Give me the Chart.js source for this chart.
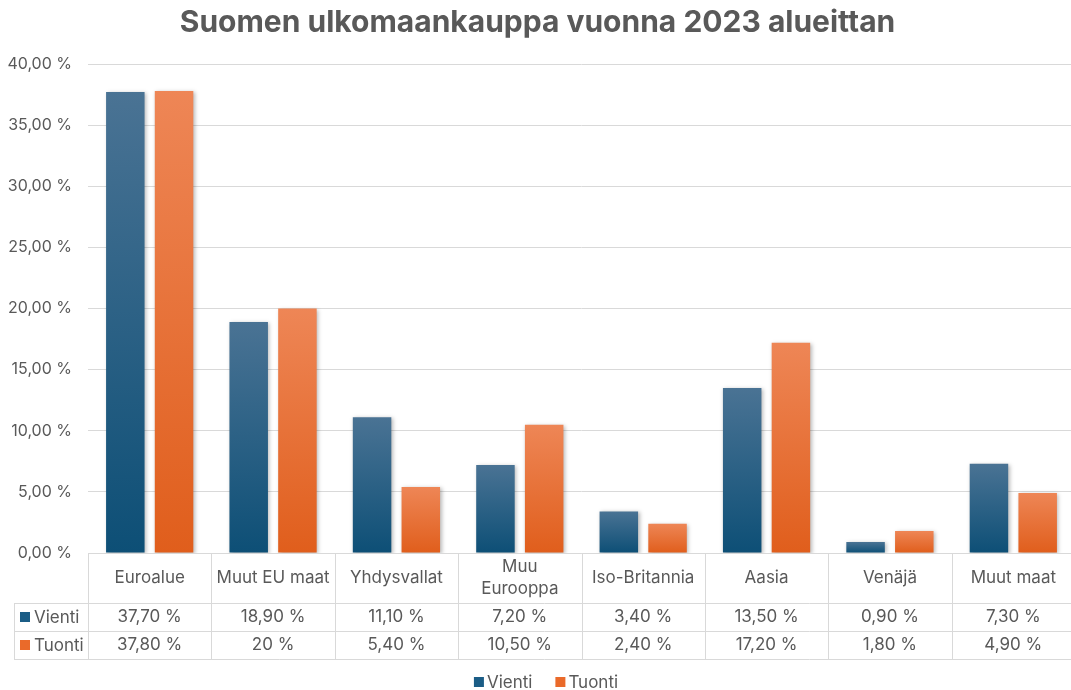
<!DOCTYPE html>
<html>
<head>
<meta charset="utf-8">
<script src="https://cdn.jsdelivr.net/npm/chart.js@4.4.0/dist/chart.umd.min.js"></script>
<style>
  html, body { margin: 0; padding: 0; background: #fff; overflow: hidden; }
  #wrap { width: 1075px; height: 690px; }
</style>
</head>
<body>
<div id="wrap"><canvas id="chart"></canvas></div>
<script>
// data
const categories = ['Euroalue', 'Muut EU maat', 'Yhdysvallat', ['Muu', 'Eurooppa'], 'Iso-Britannia', 'Aasia', 'Venäjä', 'Muut maat'];
const vienti = [37.7, 18.9, 11.1, 7.2, 3.4, 13.5, 0.9, 7.3];
const tuonti = [37.8, 20, 5.4, 10.5, 2.4, 17.2, 1.8, 4.9];
const seriesNames = ['Vienti', 'Tuonti'];
const yTicks = [0, 5, 10, 15, 20, 25, 30, 35, 40];

const textColor = '#595959';
const gridColor = '#d9d9d9';
const fontFamily = 'Inter, "Open Sans", sans-serif';

const fmtTick = v => v.toFixed(2).replace('.', ',') + ' %';
const fmtCell = v => Number.isInteger(v) ? v + ' %' : v.toFixed(2).replace('.', ',') + ' %';

// per-bar vertical gradient like the Excel fill
function barGradient(topCol, bottomCol) {
    return (ctx) => {
        const chart = ctx.chart;
        const y = chart.scales.y;
        if (!y || ctx.raw === undefined) return bottomCol;
        const top = y.getPixelForValue(ctx.raw);
        const base = y.getPixelForValue(0);
        if (!isFinite(top) || !isFinite(base) || top === base) return bottomCol;
        const g = chart.ctx.createLinearGradient(0, top, 0, base);
        g.addColorStop(0, topCol);
        g.addColorStop(1, bottomCol);
        return g;
    };
}

const swatch = ['#1b5d86', '#ea6a2a'];

const shadowPlugin = {
    id: 'barShadow',
    beforeDatasetsDraw(chart) {
        const c = chart.ctx;
        c.save();
        c.shadowColor = 'rgba(0,0,0,0.28)';
        c.shadowBlur = 4;
        c.shadowOffsetX = 1.5;
        c.shadowOffsetY = 1;
    },
    afterDatasetsDraw(chart) {
        chart.ctx.restore();
    }
};

// data table under the plot + legend, like the Excel chart
const tablePlugin = {
    id: 'dataTable',
    afterDraw(chart) {
        const c = chart.ctx;
        const x = chart.scales.x;
        const area = chart.chartArea;
        const colW = x.width / categories.length;
        const top = area.bottom;
        const headH = 50, rowH = 28;
        const r1 = top + headH, r2 = r1 + rowH, r3 = r2 + rowH;
        const leftEdge = 14;

        c.save();
        c.strokeStyle = gridColor;
        c.lineWidth = 1;
        c.beginPath();
        c.moveTo(area.left, top + 0.5); c.lineTo(area.right, top + 0.5);
        [r1, r2, r3].forEach(yy => { c.moveTo(leftEdge, yy + 0.5); c.lineTo(area.right, yy + 0.5); });
        c.moveTo(leftEdge + 0.5, r1); c.lineTo(leftEdge + 0.5, r3);
        for (let i = 0; i <= categories.length; i++) {
            const xx = Math.round(area.left + i * colW) + 0.5;
            c.moveTo(xx, top); c.lineTo(xx, r3);
        }
        c.stroke();

        c.fillStyle = textColor;
        c.font = '17px ' + fontFamily;
        c.textAlign = 'center';
        c.textBaseline = 'middle';
        categories.forEach((cat, i) => {
            const cx = x.getPixelForValue(i);
            const lines = Array.isArray(cat) ? cat : [cat];
            const lh = 22;
            const y0 = top + headH / 2 - (lines.length - 1) * lh / 2;
            lines.forEach((ln, j) => c.fillText(ln, cx, y0 + j * lh));
            c.fillText(fmtCell(vienti[i]), cx, r1 + rowH / 2);
            c.fillText(fmtCell(tuonti[i]), cx, r2 + rowH / 2);
        });

        c.textAlign = 'left';
        [r1, r2].forEach((yy, k) => {
            c.fillStyle = swatch[k];
            c.fillRect(20, yy + rowH / 2 - 5, 10, 10);
            c.fillStyle = textColor;
            c.fillText(seriesNames[k], 34, yy + rowH / 2 + 1);
        });

        // legend
        const ly = 682;
        const w0 = c.measureText(seriesNames[0]).width;
        const w1 = c.measureText(seriesNames[1]).width;
        const gap = 23, box = 10, boxGap = 3;
        const total = box + boxGap + w0 + gap + box + boxGap + w1;
        let lx = 546 - total / 2;
        [w0, w1].forEach((w, k) => {
            c.fillStyle = swatch[k];
            c.fillRect(lx, ly - 5, box, box);
            c.fillStyle = textColor;
            c.fillText(seriesNames[k], lx + box + boxGap, ly + 1);
            lx += box + boxGap + w + gap;
        });
        c.restore();
    }
};

new Chart(document.getElementById('chart').getContext('2d'), {
    type: 'bar',
    data: {
        labels: categories,
        datasets: [
            {
                label: seriesNames[0],
                data: vienti,
                backgroundColor: barGradient('#4a7394', '#0d4f76'),
                categoryPercentage: 0.79,
                barPercentage: 0.79,
            },
            {
                label: seriesNames[1],
                data: tuonti,
                backgroundColor: barGradient('#ee8656', '#e05e1c'),
                categoryPercentage: 0.79,
                barPercentage: 0.79,
            },
        ],
    },
    options: {
        responsive: true,
        maintainAspectRatio: false,
        animation: false,
        devicePixelRatio: 1,
        layout: { padding: { left: 0, right: 0, top: 0, bottom: 0 } },
        plugins: {
            title: {
                display: true,
                text: 'Suomen ulkomaankauppa vuonna 2023 alueittan',
                color: textColor,
                font: { family: fontFamily, size: 30, weight: 'bold' },
                padding: { top: 5, bottom: 23 },
            },
            legend: { display: false },
            tooltip: { enabled: false },
        },
        scales: {
            x: {
                grid: { display: false },
                border: { display: false },
                ticks: { display: false },
                afterFit: (scale) => { scale.height = 137; },
            },
            y: {
                min: 0,
                max: 40,
                afterBuildTicks: (scale) => { scale.ticks = yTicks.map(v => ({ value: v })); },
                grid: { color: gridColor, drawTicks: false },
                border: { display: false },
                ticks: {
                    color: textColor,
                    font: { family: fontFamily, size: 16 },
                    padding: 16,
                    callback: (v) => fmtTick(v),
                },
                afterFit: (scale) => { scale.width = 88; },
            },
        },
    },
    plugins: [shadowPlugin, tablePlugin],
});
</script>
</body>
</html>
